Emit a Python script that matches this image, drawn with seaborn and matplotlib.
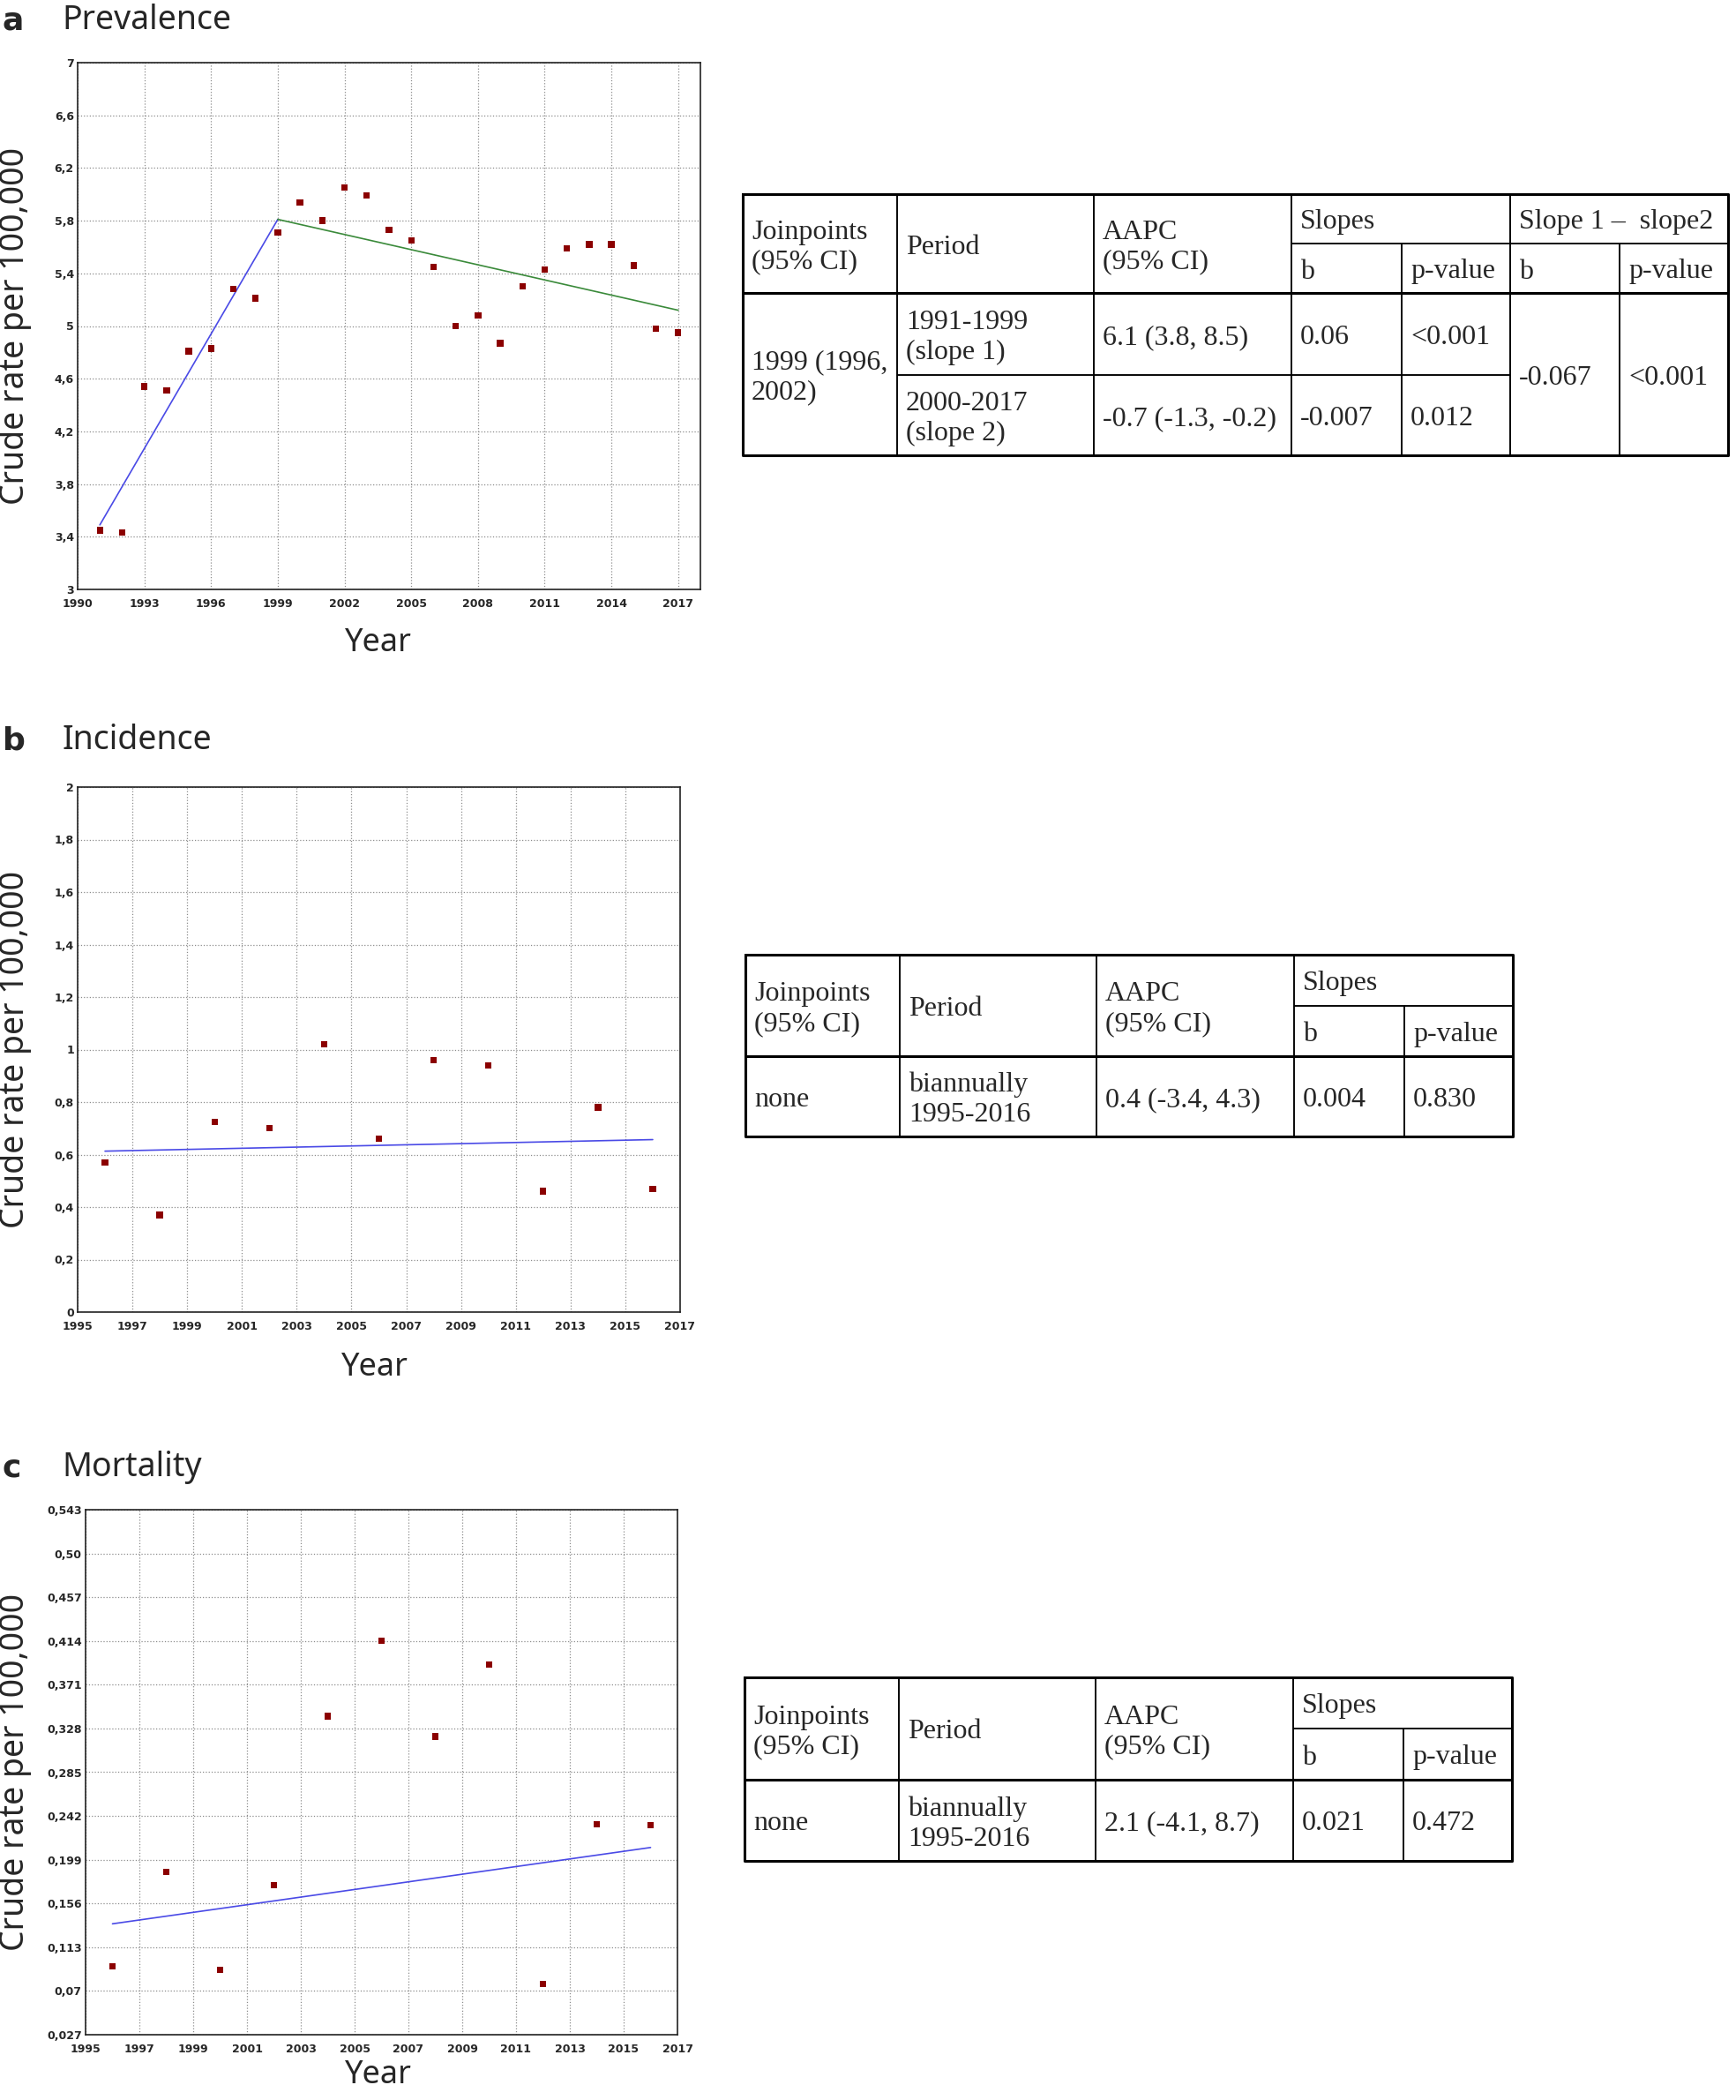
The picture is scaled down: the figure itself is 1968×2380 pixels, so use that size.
import matplotlib
matplotlib.use("Agg")
import matplotlib.pyplot as plt
import seaborn as sns
import pandas as pd

# ---- data: prevalence (panel a)
prev_years = [1991, 1992, 1993, 1994, 1995, 1996, 1997, 1998, 1999, 2000,
              2001, 2002, 2003, 2004, 2005, 2006, 2007, 2008, 2009, 2010,
              2011, 2012, 2013, 2014, 2015, 2016, 2017]
prev_rate = [3.45, 3.43, 4.54, 4.51, 4.81, 4.83, 5.28, 5.21, 5.71, 5.94,
             5.80, 6.05, 5.99, 5.73, 5.65, 5.45, 5.00, 5.08, 4.87, 5.30,
             5.43, 5.59, 5.62, 5.62, 5.46, 4.98, 4.95]
prev_seg1_years = [1991, 1999]
prev_seg1 = [3.49, 5.81]
prev_seg2_years = [1999, 2017]
prev_seg2 = [5.81, 5.12]
prev_xticks = [1990, 1993, 1996, 1999, 2002, 2005, 2008, 2011, 2014, 2017]
prev_yticks = [3, 3.4, 3.8, 4.2, 4.6, 5, 5.4, 5.8, 6.2, 6.6, 7]
prev_yticklabels = ["3", "3,4", "3,8", "4,2", "4,6", "5", "5,4", "5,8", "6,2", "6,6", "7"]

# ---- data: incidence (panel b)
inc_years = [1996, 1998, 2000, 2002, 2004, 2006, 2008, 2010, 2012, 2014, 2016]
inc_rate = [0.57, 0.37, 0.725, 0.70, 1.02, 0.66, 0.96, 0.94, 0.46, 0.78, 0.47]
inc_fit_years = [1996, 2016]
inc_fit = [0.613, 0.657]
bi_xticks = [1995, 1997, 1999, 2001, 2003, 2005, 2007, 2009, 2011, 2013, 2015, 2017]
inc_yticks = [0, 0.2, 0.4, 0.6, 0.8, 1, 1.2, 1.4, 1.6, 1.8, 2]
inc_yticklabels = ["0", "0,2", "0,4", "0,6", "0,8", "1", "1,2", "1,4", "1,6", "1,8", "2"]

# ---- data: mortality (panel c)
mort_years = [1996, 1998, 2000, 2002, 2004, 2006, 2008, 2010, 2012, 2014, 2016]
mort_rate = [0.094, 0.187, 0.091, 0.174, 0.340, 0.414, 0.320, 0.391, 0.077, 0.234, 0.233]
mort_fit_years = [1996, 2016]
mort_fit = [0.136, 0.211]
mort_yticks = [0.027, 0.07, 0.113, 0.156, 0.199, 0.242, 0.285, 0.328, 0.371,
               0.414, 0.457, 0.50, 0.543]
mort_yticklabels = ["0,027", "0,07", "0,113", "0,156", "0,199", "0,242", "0,285",
                    "0,328", "0,371", "0,414", "0,457", "0,50", "0,543"]

# ---- table texts
tab_a_cells = [
    (0, 2, 0, 1, "Joinpoints\n(95% CI)"), (0, 2, 1, 2, "Period"),
    (0, 2, 2, 3, "AAPC\n(95% CI)"), (0, 1, 3, 5, "Slopes"),
    (0, 1, 5, 7, "Slope 1 \u2013  slope2"),
    (1, 2, 3, 4, "b"), (1, 2, 4, 5, "p-value"), (1, 2, 5, 6, "b"), (1, 2, 6, 7, "p-value"),
    (2, 4, 0, 1, "1999 (1996,\n2002)"),
    (2, 3, 1, 2, "1991-1999\n(slope 1)"), (2, 3, 2, 3, "6.1 (3.8, 8.5)"),
    (2, 3, 3, 4, "0.06"), (2, 3, 4, 5, "<0.001"),
    (3, 4, 1, 2, "2000-2017\n(slope 2)"), (3, 4, 2, 3, "-0.7 (-1.3, -0.2)"),
    (3, 4, 3, 4, "-0.007"), (3, 4, 4, 5, "0.012"),
    (2, 4, 5, 6, "-0.067"), (2, 4, 6, 7, "<0.001"),
]
tab_b_cells = [
    (0, 2, 0, 1, "Joinpoints\n(95% CI)"), (0, 2, 1, 2, "Period"),
    (0, 2, 2, 3, "AAPC\n(95% CI)"), (0, 1, 3, 5, "Slopes"),
    (1, 2, 3, 4, "b"), (1, 2, 4, 5, "p-value"),
    (2, 3, 0, 1, "none"), (2, 3, 1, 2, "biannually\n1995-2016"),
    (2, 3, 2, 3, "0.4 (-3.4, 4.3)"), (2, 3, 3, 4, "0.004"), (2, 3, 4, 5, "0.830"),
]
tab_c_cells = [
    (0, 2, 0, 1, "Joinpoints\n(95% CI)"), (0, 2, 1, 2, "Period"),
    (0, 2, 2, 3, "AAPC\n(95% CI)"), (0, 1, 3, 5, "Slopes"),
    (1, 2, 3, 4, "b"), (1, 2, 4, 5, "p-value"),
    (2, 3, 0, 1, "none"), (2, 3, 1, 2, "biannually\n1995-2016"),
    (2, 3, 2, 3, "2.1 (-4.1, 8.7)"), (2, 3, 3, 4, "0.021"), (2, 3, 4, 5, "0.472"),
]

W, H = 1968, 2380
sns.set_style("white")
plt.rcParams["font.family"] = ["DejaVu Sans"]

fig = plt.figure(figsize=(W / 100, H / 100), dpi=100)

PT_RED = "#8b0000"
BLUE = "#4a4ae6"
GREEN = "#3a8a3a"


def px_axes(x0, y0, x1, y1):
    return fig.add_axes([x0 / W, 1 - y1 / H, (x1 - x0) / W, (y1 - y0) / H])


def style_panel(ax, xticks, yticks, yticklabels, xlim, ylim):
    ax.set_xlim(*xlim)
    ax.set_ylim(*ylim)
    ax.set_xticks(xticks)
    ax.set_xticklabels([str(x) for x in xticks], fontsize=9, fontweight="bold")
    ax.set_yticks(yticks)
    ax.set_yticklabels(yticklabels, fontsize=9, fontweight="bold")
    ax.tick_params(axis="x", length=0, pad=7)
    ax.tick_params(axis="y", length=0, pad=3)
    ax.grid(True, linestyle=":", color="#8c8c8c", linewidth=0.9)
    for s in ax.spines.values():
        s.set_color("#222222")
        s.set_linewidth(1.2)
    ax.set_xlabel("")
    ax.set_ylabel("")


def panel(ax, years, rate, fits, xticks, yticks, yticklabels, xlim, ylim):
    df = pd.DataFrame({"year": years, "rate": rate})
    for fy, fv, col in fits:
        sns.lineplot(x=fy, y=fv, color=col, linewidth=1.2, ax=ax)
    sns.scatterplot(data=df, x="year", y="rate", marker="s", s=28,
                    color=PT_RED, edgecolor="none", ax=ax, zorder=3)
    style_panel(ax, xticks, yticks, yticklabels, xlim, ylim)


def labels(letter, title, y_title, ax_top, ax_bot, year_x, year_y):
    fig.text(3 / W, 1 - y_title / H, letter, fontsize=26, fontweight="bold",
             va="center", ha="left", family="DejaVu Sans")
    fig.text(70 / W, 1 - y_title / H, title, fontsize=27, fontweight="medium",
             va="center", ha="left", family="Noto Sans")
    fig.text(17 / W, 1 - (ax_top + ax_bot) / 2 / H, "Crude rate per 100,000",
             rotation=90, fontsize=27, fontweight="medium", va="center",
             ha="center", family="Noto Sans")
    fig.text(year_x / W, 1 - year_y / H, "Year", fontsize=26, fontweight="medium",
             va="center", ha="center", family="Noto Sans")


# panel a
ax_a = px_axes(88, 71, 794, 668)
panel(ax_a, prev_years, prev_rate,
      [(prev_seg1_years, prev_seg1, BLUE), (prev_seg2_years, prev_seg2, GREEN)],
      prev_xticks, prev_yticks, prev_yticklabels, (1990, 2018), (3, 7))
labels("a", "Prevalence", 23, 71, 668, 429, 729)

# panel b
ax_b = px_axes(88, 892, 771, 1487)
panel(ax_b, inc_years, inc_rate, [(inc_fit_years, inc_fit, BLUE)],
      bi_xticks, inc_yticks, inc_yticklabels, (1995, 2017), (0, 2))
labels("b", "Incidence", 839, 892, 1487, 425, 1550)

# panel c
ax_c = px_axes(97, 1711, 768, 2306)
panel(ax_c, mort_years, mort_rate, [(mort_fit_years, mort_fit, BLUE)],
      bi_xticks, mort_yticks, mort_yticklabels, (1995, 2017), (0.027, 0.543))
labels("c", "Mortality", 1663, 1711, 2306, 429, 2352)


def draw_table(x0, y0, col_edges, row_edges, cells):
    w = col_edges[-1]
    h = row_edges[-1]
    ax = px_axes(x0, y0, x0 + w, y0 + h)
    ax.set_xlim(0, w)
    ax.set_ylim(h, 0)
    ax.axis("off")
    for r0, r1, c0, c1, txt in cells:
        xa, xb = col_edges[c0], col_edges[c1]
        ya, yb = row_edges[r0], row_edges[r1]
        ax.plot([xa, xb, xb, xa, xa], [ya, ya, yb, yb, ya], color="black",
                linewidth=1.1, clip_on=False, solid_capstyle="butt")
        ax.text(xa + 10, (ya + yb) / 2 + 4, txt, ha="left", va="center",
                fontsize=23, family="Liberation Serif", linespacing=1.22)
    ax.plot([0, w, w, 0, 0], [0, 0, h, h, 0], color="black", linewidth=2.2,
            clip_on=False)
    ax.plot([0, w], [row_edges[2], row_edges[2]], color="black", linewidth=2.2,
            clip_on=False)


draw_table(842, 220, [0, 175, 398, 622, 747, 870, 994, 1117],
           [0, 56, 112, 205, 296], tab_a_cells)
draw_table(845, 1082, [0, 175, 398, 622, 747, 870],
           [0, 58, 115, 206], tab_b_cells)
draw_table(844, 1901, [0, 175, 398, 622, 747, 870],
           [0, 58, 116, 208], tab_c_cells)

fig.savefig("out.png", dpi=100)
